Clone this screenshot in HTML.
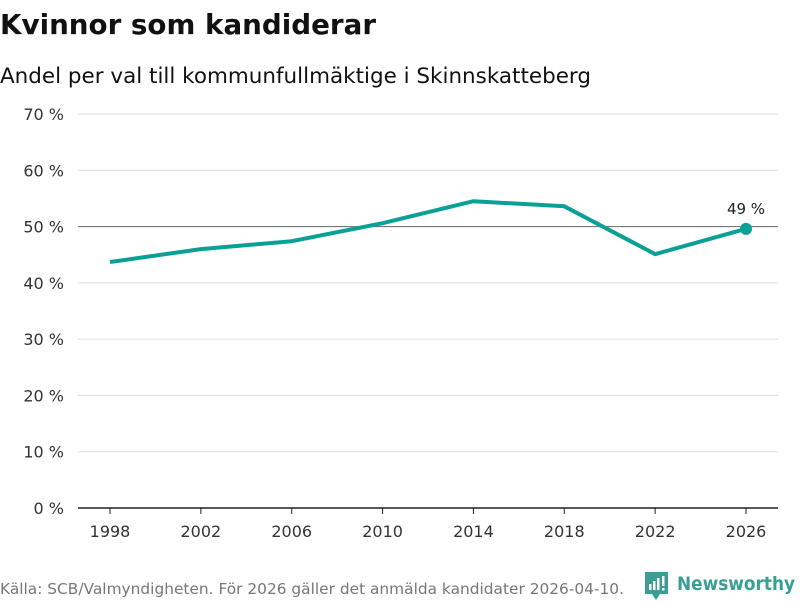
<!DOCTYPE html>
<html><head><meta charset="utf-8"><style>
body{margin:0;background:#fff;font-family:"DejaVu Sans","Liberation Sans",sans-serif;}
svg text{font-family:"DejaVu Sans","Liberation Sans",sans-serif;}
</style></head><body>
<svg width="800" height="600">
<text x="0" y="34" font-size="28" font-weight="bold" fill="#111" textLength="376" lengthAdjust="spacingAndGlyphs">Kvinnor som kandiderar</text>
<text x="0" y="83" font-size="21" fill="#111" textLength="591" lengthAdjust="spacingAndGlyphs">Andel per val till kommunfullmäktige i Skinnskatteberg</text>
<g id="grid"></g><g id="xaxis"></g><g id="series"></g>
<text x="0" y="594" font-size="15" fill="#777" textLength="624" lengthAdjust="spacingAndGlyphs">Källa: SCB/Valmyndigheten. För 2026 gäller det anmälda kandidater 2026-04-10.</text>
<g>
<path d="M645 572h23v22h-8l-4 6-4-6h-7z" fill="#3a9e92"/>
<rect x="649" y="584" width="2.5" height="6" fill="#fff"/><rect x="653" y="581" width="2.5" height="9" fill="#fff"/><rect x="657" y="578" width="2.5" height="12" fill="#fff"/><rect x="662" y="576" width="2.5" height="10" fill="#fff"/><rect x="662" y="588" width="2.5" height="2.5" fill="#fff"/>
<text x="677" y="590" font-size="19" font-weight="bold" fill="#3a9e92" textLength="118" lengthAdjust="spacingAndGlyphs">Newsworthy</text>
</g>
</svg>
<script>
const years=[1998,2002,2006,2010,2014,2018,2022,2026];
const values=[43.7,46.0,47.4,50.6,54.5,53.6,45.1,49.6];
const yTicks=[0,10,20,30,40,50,60,70];
const ns="http://www.w3.org/2000/svg";
const x=y=>110+(y-1998)*(636/28);
const yS=v=>508-v*(394/70);
function mk(t,a,p){const e=document.createElementNS(ns,t);for(const k in a)e.setAttribute(k,a[k]);p.appendChild(e);return e;}
const grid=document.getElementById('grid');
yTicks.forEach(t=>{
 const l=mk('line',{x1:78,x2:778,y1:yS(t),y2:yS(t),stroke:t==50?'#666':(t==0?'#222':'#ddd'),'stroke-width':t==0?1.5:1},grid);
 
 
 const tx=mk('text',{x:64,y:yS(t)+6,'font-size':16,fill:'#333','text-anchor':'end'},grid);
 tx.textContent=t+' %';
 
 
});
const xa=document.getElementById('xaxis');
years.forEach(yr=>{
 const tk=mk('line',{x1:x(yr),x2:x(yr),y1:508,y2:514,stroke:'#222'},xa);
 
 
 const tx=mk('text',{x:x(yr),y:537,'font-size':16,fill:'#333','text-anchor':'middle'},xa);
 tx.textContent=yr;
 
 
});
const s=document.getElementById('series');
const pl=mk('polyline',{points:years.map((yr,i)=>x(yr)+','+yS(values[i])).join(' '),fill:'none',stroke:'#0aa096','stroke-width':4,'stroke-linejoin':'round'},s);


const n=years.length-1;
const c=mk('circle',{cx:x(years[n]),cy:yS(values[n]),r:6,fill:'#0aa096'},s);


const lb=mk('text',{x:x(years[n]),y:yS(values[n])-15,'font-size':15,fill:'#222','text-anchor':'middle'},s);
lb.textContent=Math.floor(values[n])+' %';


</script>
</body></html>
